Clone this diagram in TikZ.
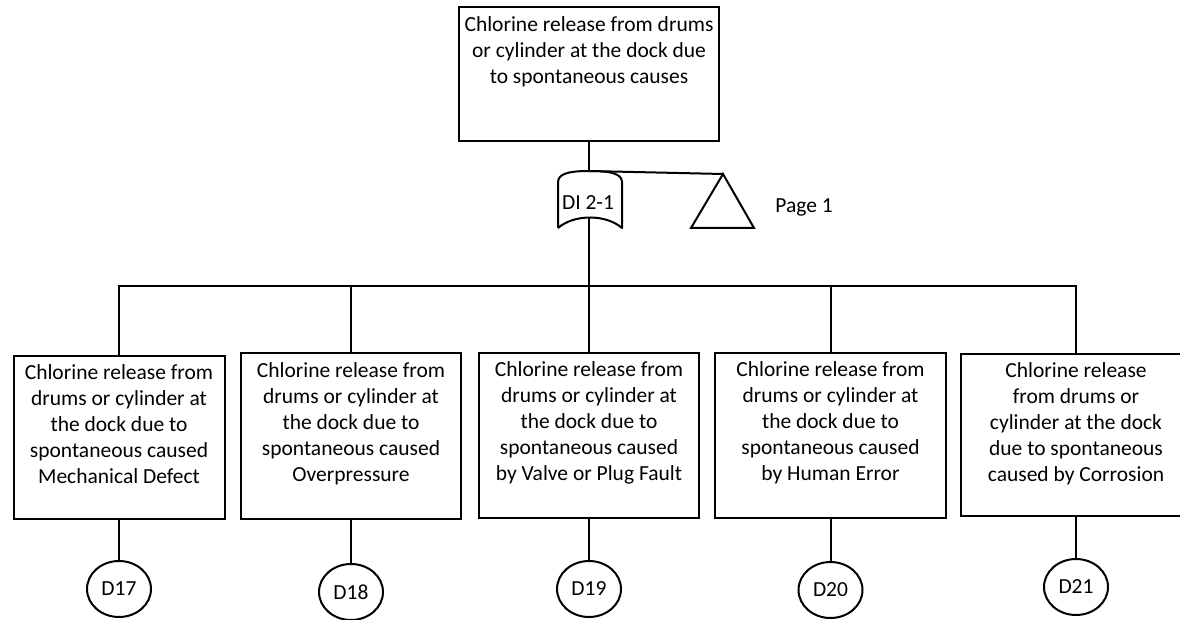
\documentclass[tikz,border=0pt]{standalone}
\usepackage{fontspec}
\setmainfont{Carlito}
\usetikzlibrary{shapes.geometric}
% event box text: width, height, first-line strut, lines
\newcommand\evtext[4]{\parbox[c][#2pt][t]{#1pt}{\centering\rule{0pt}{#3pt}#4}}
\begin{document}
\begin{tikzpicture}[x=1pt,y=-1pt,
  every node/.style={font=\fontsize{21.5}{26}\selectfont},
  event/.style={draw, line width=2pt, inner sep=0pt},
  xfer/.style={draw, ellipse, line width=2pt, minimum width=64pt, minimum height=56pt, inner sep=0pt},
  wire/.style={line width=2pt},
  heavywire/.style={line width=2.8pt},
  ]
\clip (0,0) rectangle (1180,620);
\fill[white] (0,0) rectangle (1180,620);

% top event
\node[event] (top) at (589,74) {\evtext{260}{134}{25}{Chlorine release from drums\\or cylinder at the dock due\\to spontaneous causes}};

% gate with its label
\node (gate) at (588,203) {DI 2-1};
\coordinate (gtop) at (589,171);
\coordinate (gbot) at (589,217);
\draw[wire, line join=round] (558,228) -- (558,182)
  .. controls (558,172) and (575,171) .. (gtop)
  .. controls (605,171) and (622,172) .. (622,182) -- (622,228)
  .. controls (606,214) and (574,214) .. (558,228);

% transfer triangle
\coordinate (apex) at (723,174);
\draw[wire, line join=miter] (apex) -- (691,228) -- (754,228) -- cycle;
\node (page) at (804,207) {Page 1};

% basic events
\node[event] (b1) at (119,437.5) {\evtext{211}{163}{23}{Chlorine release from\\drums or cylinder at\\the dock due to\\spontaneous caused\\Mechanical Defect}};
\node[event] (b2) at (351,436) {\evtext{220}{166}{24}{Chlorine release from\\drums or cylinder at\\the dock due to\\spontaneous caused\\Overpressure}};
\node[event] (b3) at (589,435.5) {\evtext{220}{165}{23}{Chlorine release from\\drums or cylinder at\\the dock due to\\spontaneous caused\\by Valve or Plug Fault}};
\node[event] (b4) at (830.5,435.5) {\evtext{231}{165}{23}{Chlorine release from\\drums or cylinder at\\the dock due to\\spontaneous caused\\by Human Error}};
\node[event] (b5) at (1076,435) {\evtext{230}{162}{23}{Chlorine release\\from drums or\\cylinder at the dock\\due to spontaneous\\caused by Corrosion}};

% connectors
\coordinate (bus) at (589,286);
\draw[wire] (top.south) -- (gtop);
\draw[wire] (gtop) -- (apex);
\draw[heavywire] (gbot) -- (bus);
\draw[wire] (b1.north) -- (b1.north |- bus) -- (b5.north |- bus) -- (b5.north);
\draw[heavywire] (b2.north |- bus) -- (bus);
\draw[wire] (b2.north) -- (b2.north |- bus);
\draw[wire] (b3.north) -- (bus);
\draw[wire] (b4.north) -- (b4.north |- bus);

% transfer circles
\node[xfer] (d17) at (119,589) {D17};
\node[xfer] (d18) at (351,592) {D18};
\node[xfer] (d19) at (589,589) {D19};
\node[xfer] (d20) at (830.5,590) {D20};
\node[xfer] (d21) at (1076,587) {D21};
\draw[wire] (b1.south) -- (d17.north);
\draw[wire] (b2.south) -- (d18.north);
\draw[wire] (b3.south) -- (d19.north);
\draw[wire] (b4.south) -- (d20.north);
\draw[wire] (b5.south) -- (d21.north);
\end{tikzpicture}
\end{document}
